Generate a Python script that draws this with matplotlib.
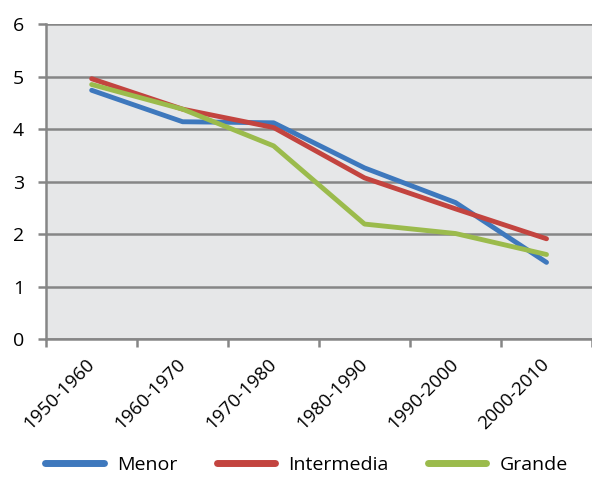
"""Tendencia por tamaño: Menor, Intermedia, Grande"""

import matplotlib.pyplot as plt
from matplotlib.lines import Line2D

plt.rcParams['font.family'] = ['Open Sans', 'DejaVu Sans']

# Data
periods = ['1950-1960', '1960-1970', '1970-1980', '1980-1990', '1990-2000', '2000-2010']
menor = [4.74, 4.14, 4.12, 3.26, 2.60, 1.46]
intermedia = [4.96, 4.38, 4.03, 3.07, 2.48, 1.91]
grande = [4.85, 4.38, 3.68, 2.19, 2.01, 1.61]

colors = {'Menor': '#3e78bd', 'Intermedia': '#c3443f', 'Grande': '#9bbb4c'}

fig = plt.figure(figsize=(5.92, 4.93), dpi=100)
ax = fig.add_axes([0.078, 0.3124, 0.922, 0.6386])
ax.set_facecolor('#e6e7e8')

x = list(range(len(periods)))
ax.plot(x, menor, color=colors['Menor'], lw=3.5, solid_capstyle='round')
ax.plot(x, intermedia, color=colors['Intermedia'], lw=3.5, solid_capstyle='round')
ax.plot(x, grande, color=colors['Grande'], lw=3.5, solid_capstyle='round')

ax.set_xlim(-0.5, 5.5)
ax.set_ylim(0, 6)
ax.set_yticks(range(7))
ax.tick_params(axis='y', labelsize=14, length=6, width=1.8, color='#868686', pad=10)
ax.yaxis.grid(True, color='#868686', lw=1.8)
ax.set_axisbelow(True)

# boundaries get tick marks, centres get the labels
ax.set_xticks([i - 0.5 for i in range(len(periods) + 1)])
ax.set_xticklabels([])
ax.tick_params(axis='x', which='major', length=6, width=1.8, color='#868686')
ax.set_xticks(x, minor=True)
ax.set_xticklabels(periods, minor=True, rotation=45, ha='right', va='center',
                   rotation_mode='anchor', fontsize=13.5)
ax.tick_params(axis='x', which='minor', length=0, pad=16)

for side in ['top', 'right']:
    ax.spines[side].set_visible(False)
for side in ['left', 'bottom']:
    ax.spines[side].set_color('#868686')
    ax.spines[side].set_linewidth(1.8)

handles = [Line2D([], [], color=colors[k], lw=5, solid_capstyle='round') for k in colors]
fig.legend(handles, list(colors), loc='center', bbox_to_anchor=(0.518, 0.057), ncol=3,
           frameon=False, fontsize=14, handlelength=3.0, columnspacing=2.0,
           handletextpad=0.7)

plt.savefig('out.png', dpi=100)
